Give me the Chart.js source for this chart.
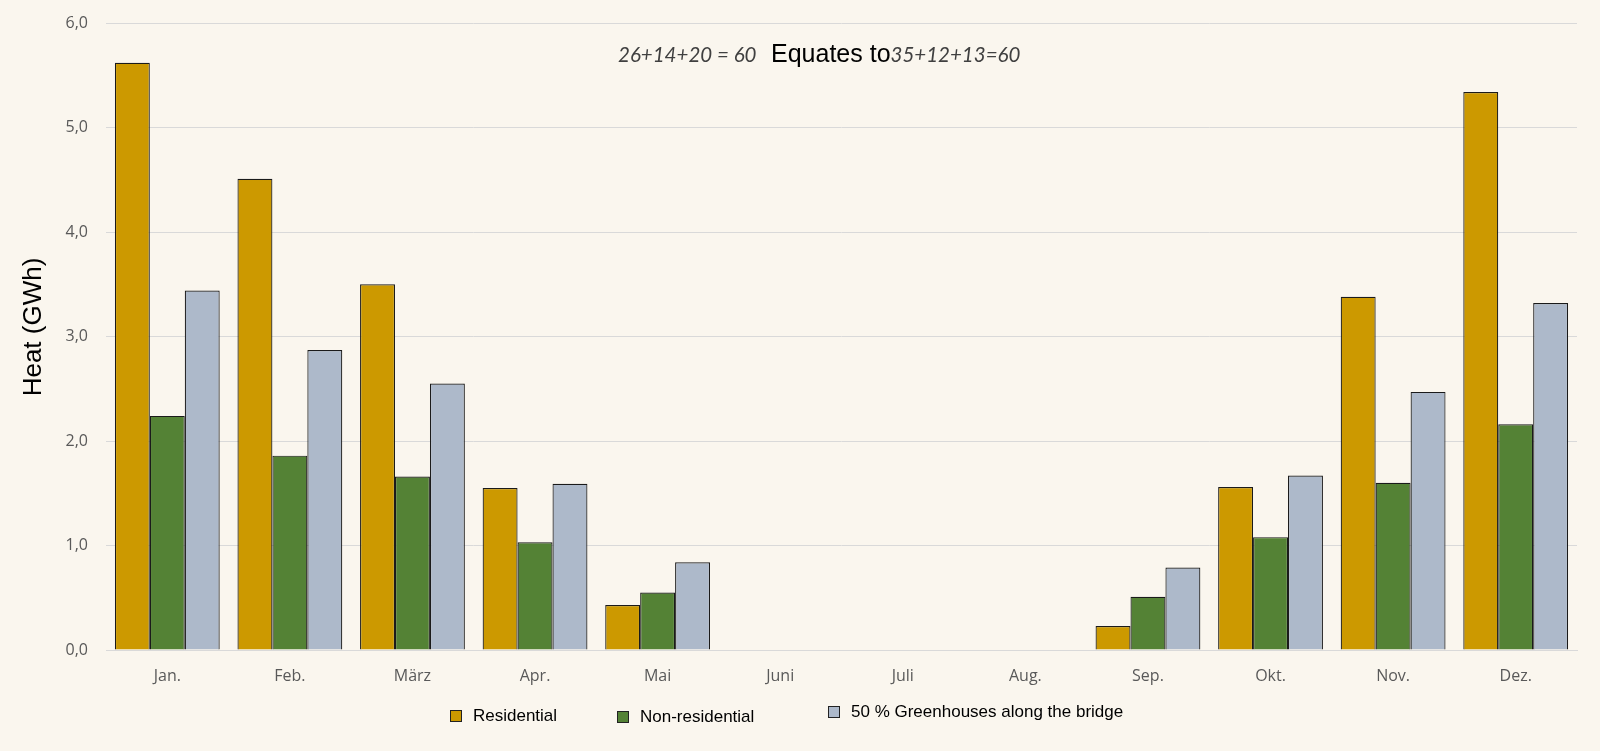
<!DOCTYPE html>
<html>
<head>
<meta charset="utf-8">
<script src="https://cdn.jsdelivr.net/npm/chart.js@4.4.1/dist/chart.umd.min.js"></script>
<style>
    html, body { margin: 0; padding: 0; background: #faf6ee; }
    #wrap { position: relative; width: 1600px; height: 751px; }
    #legend { position: absolute; left: 0; top: 0; width: 1600px; height: 751px; pointer-events: none;
              font-family: "Liberation Sans", Arial, sans-serif; font-size: 17px; color: #000; }
    .item { position: absolute; display: flex; align-items: center; white-space: nowrap; }
    .box { width: 10px; height: 10px; border: 1px solid #222; margin-right: 11px; }
</style>
</head>
<body>
<div id="wrap">
    <canvas id="heatChart"></canvas>
    <div id="legend"></div>
</div>
<script>
// Chart data
const months = ['Jan.', 'Feb.', 'März', 'Apr.', 'Mai', 'Juni', 'Juli', 'Aug.', 'Sep.', 'Okt.', 'Nov.', 'Dez.'];
const seriesNames = ['Residential', 'Non-residential', '50 % Greenhouses along the bridge'];
const residential = [5.62, 4.51, 3.50, 1.55, 0.43, 0, 0, 0, 0.23, 1.56, 3.38, 5.34];
const nonResidential = [2.24, 1.86, 1.66, 1.03, 0.55, 0, 0, 0, 0.51, 1.08, 1.60, 2.16];
const greenhouses = [3.44, 2.87, 2.55, 1.59, 0.84, 0, 0, 0, 0.79, 1.67, 2.47, 3.32];
const yTicks = [0, 1, 2, 3, 4, 5, 6];
const seriesColors = ['#cc9900', '#548235', '#adb9ca'];

document.addEventListener('DOMContentLoaded', function() {
    // Annotation text above the bars + y axis title
    const annotation = {
        id: 'annotation',
        afterDraw(chart) {
            const ctx = chart.ctx;
            ctx.save();
            ctx.textBaseline = 'alphabetic';
            ctx.textAlign = 'left';
            ctx.font = 'italic 20.5px Lato';
            ctx.fillStyle = '#404040';
            ctx.fillText('26+14+20 = 60', 618, 62);
            ctx.font = '25px "Liberation Sans"';
            ctx.fillStyle = '#000';
            ctx.fillText('Equates to', 771, 62);
            const w = ctx.measureText('Equates to').width;
            ctx.font = 'italic 20.5px Lato';
            ctx.fillStyle = '#404040';
            ctx.fillText('35+12+13=60', 771 + w, 62);

            // y axis title
            ctx.translate(34, 327);
            ctx.rotate(-Math.PI / 2);
            ctx.textAlign = 'center';
            ctx.textBaseline = 'middle';
            ctx.font = '26px "Liberation Sans"';
            ctx.fillStyle = '#000';
            ctx.fillText('Heat (GWh)', 0, 0);
            ctx.restore();
        }
    };

    const values = [residential, nonResidential, greenhouses];
    const ctx = document.getElementById('heatChart').getContext('2d');
    const heatChart = new Chart(ctx, {
        type: 'bar',
        data: {
            labels: months,
            datasets: seriesNames.map((name, i) => ({
                label: name,
                data: values[i],
                backgroundColor: seriesColors[i],
                borderColor: '#1a1a1a',
                borderWidth: 1.2,
                categoryPercentage: 0.855,
                barPercentage: 1.0
            }))
        },
        options: {
            responsive: true,
            maintainAspectRatio: false,
            animation: false,
            layout: { padding: { top: 23, right: 23, bottom: 0, left: 0 } },
            plugins: {
                legend: { display: false },
                tooltip: { enabled: false }
            },
            scales: {
                x: {
                    grid: { display: false, drawTicks: false },
                    border: { color: '#d9d9d9' },
                    ticks: { color: '#595959', font: { family: 'Open Sans', size: 16 }, padding: 17 },
                    afterFit: s => { s.height = 101; }
                },
                y: {
                    min: 0,
                    max: 6,
                    afterBuildTicks: s => { s.ticks = yTicks.map(v => ({ value: v })); },
                    grid: { color: '#d9d9d9', tickLength: 14, tickColor: 'rgba(0,0,0,0)' },
                    border: { display: false },
                    ticks: {
                        color: '#595959',
                        font: { family: 'Open Sans', size: 16 },
                        padding: 4,
                        callback: v => v.toFixed(1).replace('.', ',')
                    },
                    afterFit: s => { s.width = 106; }
                }
            }
        },
        plugins: [annotation]
    });

    // HTML legend built from the series names
    const legendLeft = [450, 617, 828];
    const legendTop = [716, 717, 712];
    const legend = document.getElementById('legend');
    seriesNames.forEach((name, i) => {
        const item = document.createElement('div');
        item.className = 'item';
        item.style.left = legendLeft[i] + 'px';
        item.style.top = (legendTop[i] - 10) + 'px';
        item.style.height = '20px';
        const box = document.createElement('span');
        box.className = 'box';
        box.style.background = seriesColors[i];
        const label = document.createElement('span');
        label.textContent = name;
        item.appendChild(box);
        item.appendChild(label);
        legend.appendChild(item);
    });
});
</script>
</body>
</html>
